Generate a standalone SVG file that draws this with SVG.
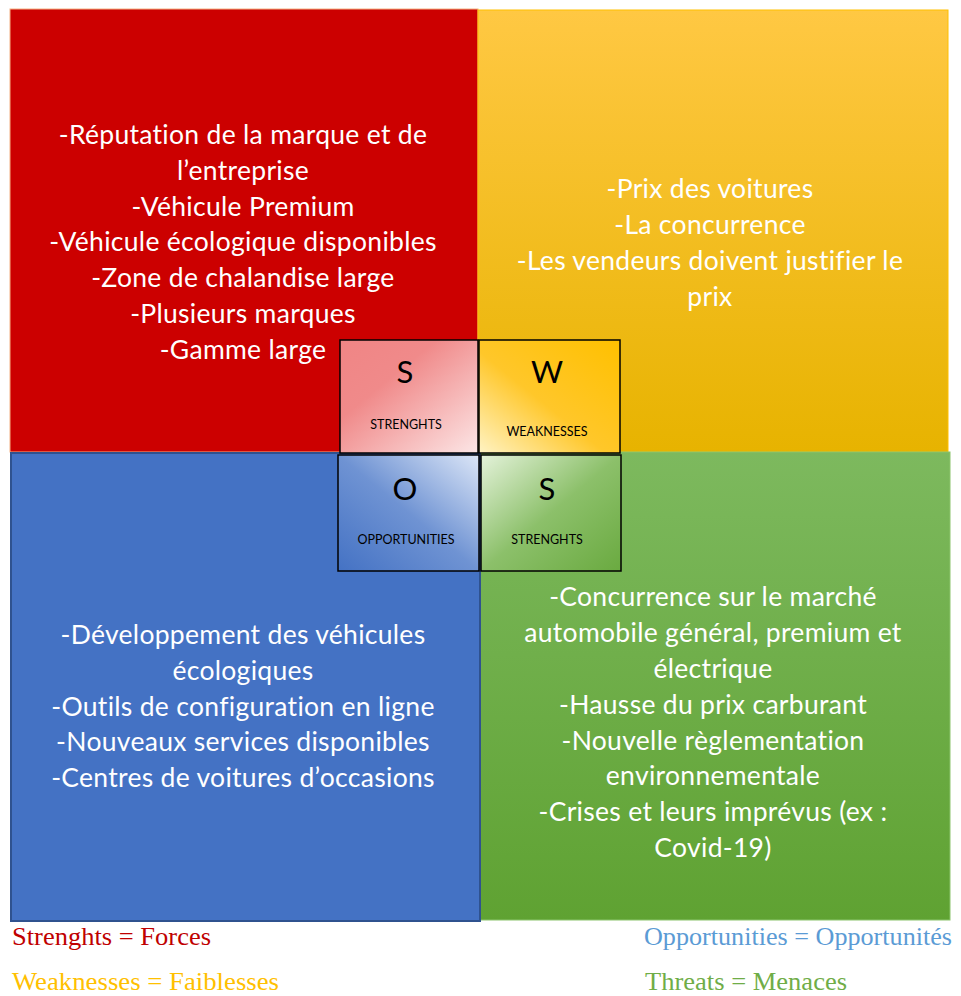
<svg xmlns="http://www.w3.org/2000/svg" width="961" height="996" viewBox="0 0 961 996">
  <style>
    .body { font-family: Lato, "Open Sans", sans-serif; font-size: 26.5px; letter-spacing: 0.3px; fill: #ffffff; text-anchor: middle; }
    .letter { font-family: Lato, "Open Sans", sans-serif; font-size: 31px; fill: #000000; text-anchor: middle; }
    .cap { font-family: Lato, "Open Sans", sans-serif; font-size: 12.5px; fill: #000000; text-anchor: middle; }
    .legend { font-family: "Liberation Serif", serif; font-size: 25.5px; }
    .box { stroke: #000000; stroke-width: 1.5; }
  </style>
  <defs>
    <linearGradient id="gYellow" x1="0" y1="0" x2="0" y2="1">
      <stop offset="0" stop-color="#FFC843"/>
      <stop offset="1" stop-color="#E7B300"/>
    </linearGradient>
    <linearGradient id="gGreen" x1="0" y1="0" x2="0" y2="1">
      <stop offset="0" stop-color="#7DB95E"/>
      <stop offset="1" stop-color="#5FA232"/>
    </linearGradient>
    <linearGradient id="gS" x1="0" y1="0" x2="1" y2="1">
      <stop offset="0" stop-color="#F08585"/>
      <stop offset="0.35" stop-color="#F08A8A"/>
      <stop offset="1" stop-color="#FCE6E6"/>
    </linearGradient>
    <linearGradient id="gW" x1="0" y1="1" x2="1" y2="0">
      <stop offset="0" stop-color="#FFF3C4"/>
      <stop offset="0.45" stop-color="#FFC72A"/>
      <stop offset="1" stop-color="#FFC000"/>
    </linearGradient>
    <linearGradient id="gO" x1="1" y1="0" x2="0" y2="1">
      <stop offset="0" stop-color="#DCE6F7"/>
      <stop offset="0.5" stop-color="#6F93D3"/>
      <stop offset="1" stop-color="#4472C4"/>
    </linearGradient>
    <linearGradient id="gT" x1="0" y1="0" x2="1" y2="1">
      <stop offset="0" stop-color="#E4F2DA"/>
      <stop offset="0.5" stop-color="#8CC06A"/>
      <stop offset="1" stop-color="#6AAA40"/>
    </linearGradient>
  </defs>

  <!-- Quadrants -->
  <g id="strengths">
    <rect x="10" y="9" width="468" height="443" fill="#CC0000" stroke="#F4B183" stroke-width="1"/>
    <text class="body" x="243" y="144">-Réputation de la marque et de</text>
    <text class="body" x="243" y="180">l’entreprise</text>
    <text class="body" x="243" y="216">-Véhicule Premium</text>
    <text class="body" x="243" y="251">-Véhicule écologique disponibles</text>
    <text class="body" x="243" y="287">-Zone de chalandise large</text>
    <text class="body" x="243" y="323">-Plusieurs marques</text>
    <text class="body" x="243" y="359">-Gamme large</text>
  </g>

  <g id="weaknesses">
    <rect x="478" y="10" width="470" height="442" fill="url(#gYellow)" stroke="#FFC000" stroke-width="1"/>
    <text class="body" x="710" y="198">-Prix des voitures</text>
    <text class="body" x="710" y="234">-La concurrence</text>
    <text class="body" x="710" y="270">-Les vendeurs doivent justifier le</text>
    <text class="body" x="710" y="306">prix</text>
  </g>

  <g id="threats">
    <rect x="480" y="452" width="470" height="468" fill="url(#gGreen)" stroke="#8CC46C" stroke-width="1"/>
    <text class="body" x="713" y="606">-Concurrence sur le marché</text>
    <text class="body" x="713" y="642">automobile général, premium et</text>
    <text class="body" x="713" y="678">électrique</text>
    <text class="body" x="713" y="714">-Hausse du prix carburant</text>
    <text class="body" x="713" y="750">-Nouvelle règlementation</text>
    <text class="body" x="713" y="785">environnementale</text>
    <text class="body" x="713" y="821">-Crises et leurs imprévus (ex :</text>
    <text class="body" x="713" y="857">Covid-19)</text>
  </g>

  <g id="opportunities">
    <rect x="11" y="453" width="469" height="468" fill="#4472C4" stroke="#2F528F" stroke-width="2"/>
    <text class="body" x="243" y="644">-Développement des véhicules</text>
    <text class="body" x="243" y="680">écologiques</text>
    <text class="body" x="243" y="716">-Outils de configuration en ligne</text>
    <text class="body" x="243" y="751">-Nouveaux services disponibles</text>
    <text class="body" x="243" y="787">-Centres de voitures d’occasions</text>
  </g>

  <!-- Central SWOT tiles -->
  <g id="tile-s">
    <rect class="box" x="340" y="340" width="138" height="113" fill="url(#gS)"/>
    <text class="letter" x="405" y="383">S</text>
    <text class="cap" x="406" y="429">STRENGHTS</text>
  </g>
  <g id="tile-w">
    <rect class="box" x="479" y="340" width="141" height="113" fill="url(#gW)"/>
    <text class="letter" x="547" y="383">W</text>
    <text class="cap" x="547" y="436">WEAKNESSES</text>
  </g>
  <g id="tile-o">
    <rect class="box" x="338" y="455" width="141" height="116" fill="url(#gO)"/>
    <text class="letter" x="405" y="500">O</text>
    <text class="cap" x="406" y="544">OPPORTUNITIES</text>
  </g>
  <g id="tile-t">
    <rect class="box" x="481" y="455" width="140" height="116" fill="url(#gT)"/>
    <text class="letter" x="547" y="500">S</text>
    <text class="cap" x="547" y="544">STRENGHTS</text>
  </g>

  <!-- Legend -->
  <g id="legend">
    <text class="legend" x="12" y="945" fill="#C00000" textLength="199" lengthAdjust="spacingAndGlyphs">Strenghts = Forces</text>
    <text class="legend" x="12" y="990" fill="#FFC000" textLength="267" lengthAdjust="spacingAndGlyphs">Weaknesses = Faiblesses</text>
    <text class="legend" x="644" y="945" fill="#5B9BD5" textLength="308" lengthAdjust="spacingAndGlyphs">Opportunities = Opportunités</text>
    <text class="legend" x="645" y="990" fill="#70AD47" textLength="202" lengthAdjust="spacingAndGlyphs">Threats = Menaces</text>
  </g>
</svg>
